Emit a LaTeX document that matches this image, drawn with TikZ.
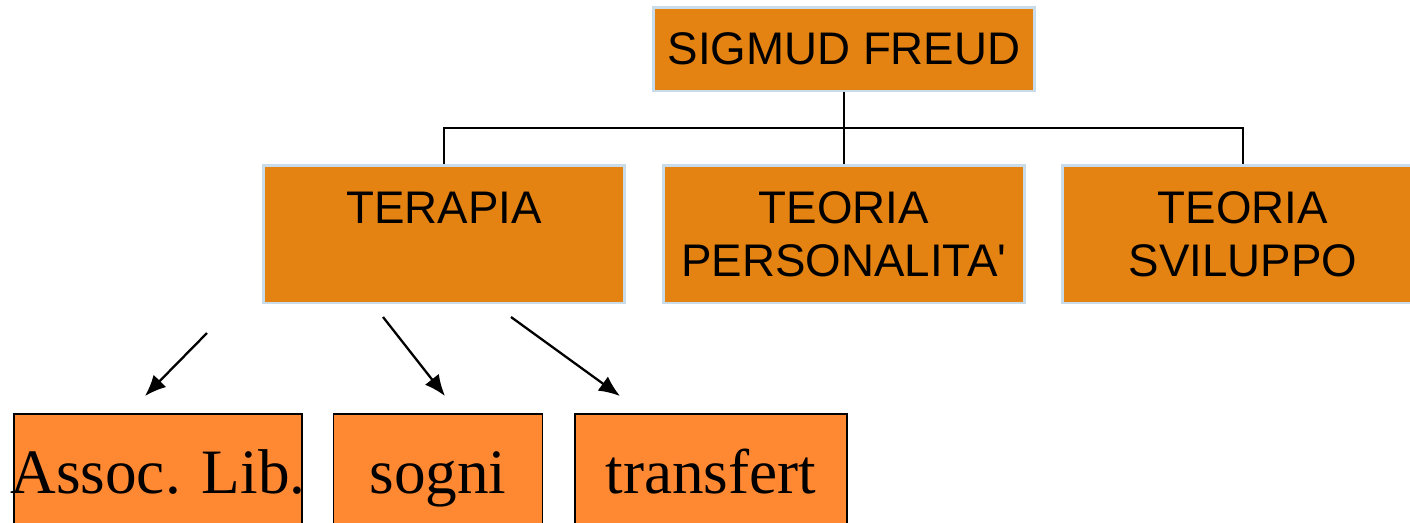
\documentclass[tikz,border=0pt]{standalone}
\usepackage{fontspec}
\setmainfont{Liberation Serif}
\newfontfamily\headfont{Liberation Sans}
\usepackage{xcolor}
\usetikzlibrary{arrows.meta}

\definecolor{topfill}{RGB}{228,130,18}
\definecolor{lowfill}{RGB}{255,136,51}
\definecolor{edgeblue}{RGB}{200,220,235}

\begin{document}
\begin{tikzpicture}[x=0.02cm,y=-0.02cm,
  topbox/.style={draw=edgeblue,line width=1.7pt,fill=topfill,align=center,inner sep=0pt,
    font=\headfont\fontsize{26}{30}\selectfont},
  lowbox/.style={draw=black,line width=1.1pt,fill=lowfill,anchor=north,inner sep=0pt,
    text height=1.6cm,text depth=1.2cm,font=\fontsize{36}{40}\selectfont},
  link/.style={line width=1.6pt},
  pointer/.style={line width=1.3pt,-{Latex[length=12pt,width=10pt]}}]

\useasboundingbox (0,0) rectangle (1410,522);

% Root
\node[topbox,minimum width=7.64cm,minimum height=1.68cm] (freud) at (844,49) {SIGMUD FREUD};

% Second level
\node[topbox,minimum width=7.22cm,minimum height=2.76cm] (terapia) at (444,234) {TERAPIA\\\mbox{}};
\node[topbox,minimum width=7.22cm,minimum height=2.76cm] (personalita) at (844,234) {TEORIA\\PERSONALITA\textquotesingle};
\node[topbox,minimum width=7.22cm,minimum height=2.76cm] (sviluppo) at (1243,234) {TEORIA\\SVILUPPO};

% Tree lines
\coordinate (bus) at (844,128);
\draw[link] (freud.south) -- (personalita.north);
\draw[link] (terapia.north) |- (bus) -| (sviluppo.north);

% Techniques of the therapy
\node[lowbox] (assoc) at (158,413) {\makebox[5.76cm]{Assoc. Lib.}};
\node[lowbox,minimum width=4.18cm] (sogni) at (438,413) {sogni};
\node[lowbox,minimum width=5.44cm] (transfert) at (711,413) {transfert};

% Arrows
\foreach \i/\sx/\sy/\ex/\ey in {1/207/333/145/396, 2/383/317/445/396, 3/511/317/620/396}
{
\coordinate (from\i) at (\sx,\sy);
\coordinate (to\i) at (\ex,\ey);
\draw[pointer] (from\i) -- (to\i);
}

\end{tikzpicture}
\end{document}
